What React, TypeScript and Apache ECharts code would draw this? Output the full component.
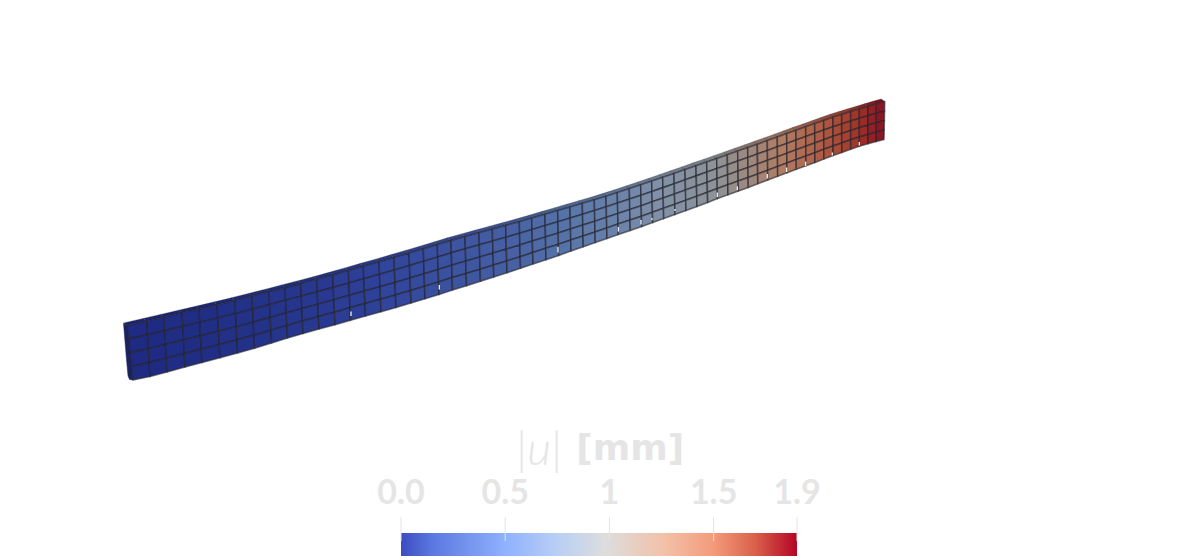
import React, { useEffect, useRef } from "react";
import * as echarts from "echarts";

// Column boundaries of the beam's front face (page pixels)
const topX = [127,146.7,164,182,199,217,235,252,269,285,300.7,316.7,332.7,348.3,363.3,379,394,409,423.3,437.3,451,465,479,492.3,505.7,519.3,531.7,545,557.7,570,582.3,594.3,606,617.3,629.3,640.7,651.7,662.7,674,685,696,706.7,716.7,727.3,737.7,747.7,757.3,767.3,777.3,786.7,796,805.7,814.7,823.7,833,841.7,850.7,859.3,868,876.3,884.7];
const topY = [325.5,321,317,312.8,308.9,304.7,300.3,296,291.8,287.6,283.6,279.3,274.9,270.5,266.2,261.8,257.4,253,248.8,244.6,240.4,236.5,232.7,229,225.4,221.7,218.1,214.2,210.5,206.9,203.3,199.8,196.2,192.6,188.6,184.8,181.1,177.3,173.4,169.6,165.7,162,158.5,154.8,151.1,147.6,144.2,140.6,137,133.6,130.2,126.8,123.6,120.4,117.1,114.4,111.6,109,106.4,103.9,101.5];
const bottomX = [133,150,167,185,202,220,237.5,254.5,271.5,287.5,303,319,335,350.5,365.5,381,396,411,425,439,452.5,466.5,480.5,493.8,507,520.5,533,546,558.7,571,583.3,595.3,607,618.3,630.3,641.7,652.7,663.7,675,686,697,707.7,717.5,728,738.4,748.3,757.8,767.8,777.7,787,796.3,806,815,823.9,833.1,841.8,850.7,859.3,868,876.2,884];
const bottomY = [380,376.5,372,367,362.5,357.8,353,348.3,343,338,333.5,329,324.8,320.2,316,311.7,307.4,303,298.7,294.4,290,285.7,281.3,277,272.8,268.3,264,259.7,255.4,251,246.8,242.6,238.5,234.6,230.4,226.6,222.6,218.6,214.4,210.4,206.4,202.4,198.6,194.8,191,187.4,183.8,180,176.3,172.8,169.3,165.8,162.4,159,155.5,152.4,149.2,146.3,143.8,141.5,139.5];

// |u| in mm for each of the 60 columns, estimated from the colours
const columnU = [0,0,0.01,0.01,0.02,0.03,0.04,0.05,0.06,0.07,0.08,0.09,0.11,0.12,0.14,0.16,0.18,0.2,0.22,0.24,0.26,0.28,0.31,0.33,0.35,0.38,0.41,0.44,0.47,0.5,0.53,0.56,0.6,0.63,0.67,0.71,0.75,0.79,0.83,0.87,0.91,0.95,1,1.05,1.09,1.13,1.18,1.22,1.27,1.32,1.37,1.42,1.47,1.53,1.58,1.63,1.69,1.75,1.81,1.87];
const rowCount = 4;

// Left end face and small white gaps in the lower edge
const endFaceX = [123.5,127.5,133,129.5,128,126.5];
const endFaceY = [323.5,325.5,380,379.5,376,360];
const gapX = [351,439.3,558,618.3,641,652,675,717.3,737.3,767.3,786.7,805.7,832.3,859.3];
const gapY = [311.5,285,247,227,220,218,209,192.5,186.5,174,167.5,161.5,152.5,142];
const gapLen = [4.5,4.5,5.5,4.5,4.5,2,2,4.5,3.5,4.5,4.5,4.5,3,3.5];

// Colour scale: the legend's colours and the shaded colours seen on the beam
const scaleU = [0,0.15,0.5,0.75,0.98,1.27,1.5,1.7,1.9];
const scaleColors = ["#3b4cc0","#5b78e0","#8fb1fe","#b9cff5","#dddddd","#f2c0a6","#f49a7b","#d9604a","#b40426"];
const beamColors = ["#1f2b82","#2f439b","#5a78aa","#8090a8","#8f9396","#b07c62","#ae5a42","#a03428","#8b0f20"];
const scaleMax = 1.9;
const tickValues = [0,0.5,1,1.5,1.9];
const tickLabels = ["0.0","0.5","1","1.5","1.9"];
const titleMain = "|u|";
const titleUnit = "[mm]";

const GREY = "#e5e5e5";
const TOP_SHADE = 0.85;
const FONT = "Lato";

function hexRgb(h: string) {
  return [1, 3, 5].map((i) => parseInt(h.slice(i, i + 2), 16));
}
function colorAt(u: number, shade: number) {
  let i = 0;
  while (i < scaleU.length - 2 && u > scaleU[i + 1]) i++;
  const t = Math.min(1, Math.max(0, (u - scaleU[i]) / (scaleU[i + 1] - scaleU[i])));
  const a = hexRgb(beamColors[i]);
  const b = hexRgb(beamColors[i + 1]);
  const c = a.map((v, k) => Math.round((v + (b[k] - v) * t) * shade));
  return `rgb(${c[0]},${c[1]},${c[2]})`;
}

const cells: number[][] = [];
columnU.forEach((_, c) => {
  for (let r = 0; r < rowCount; r++) cells.push([c, r]);
});
const columns = columnU.map((_, c) => [c]);

function facePoint(c: number, r: number) {
  const t = r / rowCount;
  return [topX[c] + (bottomX[c] - topX[c]) * t, topY[c] + (bottomY[c] - topY[c]) * t];
}

const option: any = {
  animation: false,
  backgroundColor: "#ffffff",
  title: {
    text: `{a|${titleMain}} {b|${titleUnit}}`,
    left: 595,
    textAlign: "center",
    top: 419,
    textStyle: {
      rich: {
        a: { fontFamily: FONT, fontSize: 46, fontWeight: 300, fontStyle: "italic", color: GREY, padding: [0, 9, 0, 0] },
        b: { fontFamily: "DejaVu Sans", fontSize: 36, fontWeight: 700, color: GREY },
      },
    },
  },
  grid: [
    { left: 0, top: 0, width: 1200, height: 560 },
    { left: 401, top: 533, width: 396, height: 23 },
  ],
  xAxis: [
    { type: "value", gridIndex: 0, min: 0, max: 1200, show: false },
    {
      type: "value",
      gridIndex: 1,
      min: 0,
      max: scaleMax,
      position: "top",
      splitLine: { show: false },
      axisLine: { show: false },
      axisTick: { show: false },
      axisLabel: {
        customValues: tickValues,
        formatter: (v: number) => tickLabels[tickValues.indexOf(v)],
        showMinLabel: true,
        showMaxLabel: true,
        margin: 26,
        color: GREY,
        fontFamily: FONT,
        fontSize: 34,
        fontWeight: 700,
      },
    },
  ],
  yAxis: [
    { type: "value", gridIndex: 0, min: 0, max: 560, inverse: true, show: false },
    { type: "value", gridIndex: 1, min: 0, max: 1, show: false },
  ],
  series: [
    {
      type: "custom",
      name: "end face",
      xAxisIndex: 0,
      yAxisIndex: 0,
      silent: true,
      clip: false,
      data: [[0]],
      renderItem: (_: any, api: any) => ({
        type: "polygon",
        shape: { points: endFaceX.map((x, i) => api.coord([x, endFaceY[i]])) },
        style: { fill: "#1a2260", stroke: "#1a2260", lineWidth: 0.5 },
      }),
    },
    {
      type: "custom",
      name: "top face",
      xAxisIndex: 0,
      yAxisIndex: 0,
      silent: true,
      clip: false,
      data: columns,
      renderItem: (_: any, api: any) => {
        const c = api.value(0);
        const pts = [
          [topX[c], topY[c]],
          [topX[c + 1], topY[c + 1]],
          [topX[c + 1] - 3.5, topY[c + 1] - 2.6],
          [topX[c] - 3.5, topY[c] - 2.6],
        ];
        const fill = colorAt(columnU[c], TOP_SHADE);
        return {
          type: "polygon",
          shape: { points: pts.map((p) => api.coord(p)) },
          style: { fill, stroke: "rgba(35,35,45,0.45)", lineWidth: 0.6 },
        };
      },
    },
    {
      type: "custom",
      name: "front face",
      xAxisIndex: 0,
      yAxisIndex: 0,
      silent: true,
      clip: false,
      data: cells,
      renderItem: (_: any, api: any) => {
        const c = api.value(0);
        const r = api.value(1);
        const pts = [facePoint(c, r), facePoint(c + 1, r), facePoint(c + 1, r + 1), facePoint(c, r + 1)];
        return {
          type: "polygon",
          shape: { points: pts.map((p) => api.coord(p)) },
          style: {
            fill: colorAt(columnU[c], 1),
            stroke: "rgba(35,35,45,0.62)",
            lineWidth: 1.6,
            lineJoin: "round",
          },
        };
      },
    },
    {
      type: "custom",
      name: "gaps",
      xAxisIndex: 0,
      yAxisIndex: 0,
      silent: true,
      clip: false,
      data: gapX.map((_, i) => [i]),
      renderItem: (_: any, api: any) => {
        const i = api.value(0);
        const a = api.coord([gapX[i], gapY[i]]);
        const b = api.coord([gapX[i], gapY[i] + gapLen[i]]);
        return {
          type: "line",
          shape: { x1: a[0], y1: a[1], x2: b[0], y2: b[1] },
          style: { stroke: "#ffffff", lineWidth: 1.2 },
        };
      },
    },
    {
      type: "custom",
      name: "scale bar",
      xAxisIndex: 1,
      yAxisIndex: 1,
      silent: true,
      clip: false,
      data: [[0]],
      renderItem: (_: any, api: any) => {
        const a = api.coord([0, 1]);
        const b = api.coord([scaleMax, 0]);
        return {
          type: "rect",
          shape: { x: a[0], y: a[1], width: b[0] - a[0], height: b[1] - a[1] },
          style: {
            fill: new echarts.graphic.LinearGradient(
              0, 0, 1, 0,
              scaleU.map((u, i) => ({ offset: u / scaleMax, color: scaleColors[i] }))
            ),
          },
        };
      },
    },
    {
      type: "custom",
      name: "scale ticks",
      xAxisIndex: 1,
      yAxisIndex: 1,
      silent: true,
      clip: false,
      data: tickValues.map((v) => [v]),
      renderItem: (_: any, api: any) => {
        const v = api.value(0);
        const a = api.coord([v, 1.7]);
        const b = api.coord([v, 0.65]);
        return {
          type: "line",
          shape: { x1: a[0], y1: a[1], x2: b[0], y2: b[1] },
          style: { stroke: "#e3e3e3", lineWidth: 1 },
        };
      },
    },
  ],
};

export default function App() {
  const ref = useRef<HTMLDivElement>(null);
  useEffect(() => {
    const chart = echarts.init(ref.current!, undefined, { renderer: "svg" });
    chart.setOption(option);
    return () => chart.dispose();
  }, []);
  return <div ref={ref} style={{ position: "absolute", left: 0, top: 0, width: 1200, height: 560 }} />;
}
